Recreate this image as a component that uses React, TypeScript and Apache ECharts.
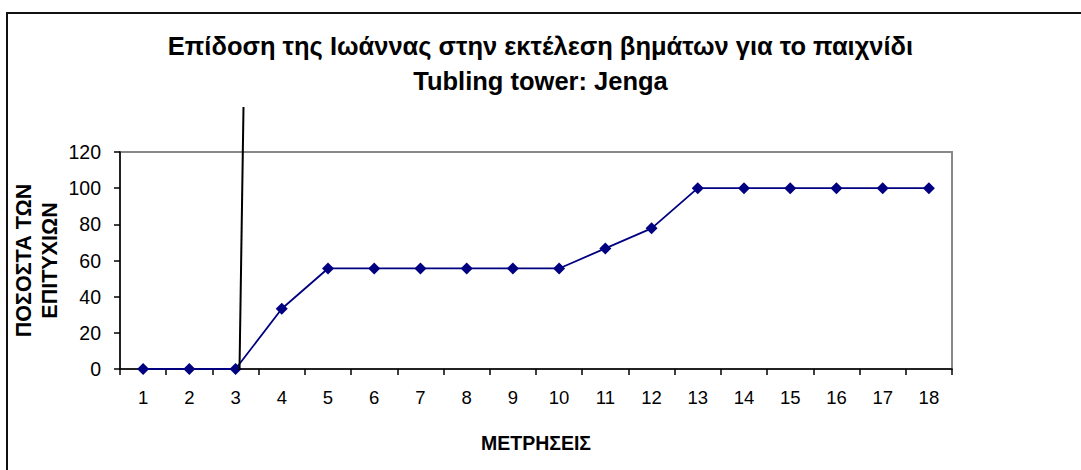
import React, { useEffect, useRef } from "react";
import * as echarts from "echarts";

const categories = ["1","2","3","4","5","6","7","8","9","10","11","12","13","14","15","16","17","18"];
const successRate = [0, 0, 0, 33.3, 55.6, 55.6, 55.6, 55.6, 55.6, 55.6, 66.7, 77.8, 100, 100, 100, 100, 100, 100];
const titleLines = ["Επίδοση της Ιωάννας στην εκτέλεση βημάτων για το παιχνίδι", "Tubling tower: Jenga"];
const yAxisName = "ΠΟΣΟΣΤΑ ΤΩΝ\nΕΠΙΤΥΧΙΩΝ";
const xAxisName = "ΜΕΤΡΗΣΕΙΣ";

const FONT = "Liberation Sans, Arial, sans-serif";

export default function App() {
  const ref = useRef<HTMLDivElement>(null);
  useEffect(() => {
    document.body.style.margin = "0";
    const chart = echarts.init(ref.current!, null, { renderer: "svg" });
    chart.setOption({
      animation: false,
      backgroundColor: "#ffffff",
      textStyle: { fontFamily: FONT, color: "#000" },
      title: {
        text: titleLines.join("\n"),
        left: "center",
        top: 23,
        textStyle: { fontFamily: FONT, fontSize: 25.5, fontWeight: "bold", color: "#000", lineHeight: 35 },
      },
      grid: {
        left: 120, top: 152, right: 129, bottom: 101,
        outerBoundsMode: "none",
        containLabel: false,
        show: true, borderColor: "#888888", borderWidth: 2, backgroundColor: "transparent",
      },
      xAxis: {
        type: "category",
        data: categories,
        boundaryGap: true,
        name: xAxisName,
        nameLocation: "middle",
        nameGap: 64,
        nameMoveOverlap: false,
        nameTextStyle: { fontFamily: FONT, fontSize: 19.5, fontWeight: "bold", color: "#000" },
        axisLine: { lineStyle: { color: "#000", width: 1.5 } },
        axisTick: { show: true, length: 6, lineStyle: { color: "#000", width: 1.5 } },
        axisLabel: { fontFamily: FONT, fontSize: 18.5, color: "#000", margin: 19 },
        splitLine: { show: false },
      },
      yAxis: {
        type: "value",
        min: 0,
        max: 120,
        interval: 20,
        name: yAxisName,
        nameLocation: "middle",
        nameRotate: 90,
        nameGap: 57,
        nameMoveOverlap: false,
        nameTextStyle: { fontFamily: FONT, fontSize: 21.5, fontWeight: "bold", color: "#000", lineHeight: 26, align: "center" },
        axisLine: { show: true, lineStyle: { color: "#000", width: 1.5 } },
        axisTick: { show: true, length: 6, lineStyle: { color: "#000", width: 1.5 } },
        axisLabel: { fontFamily: FONT, fontSize: 19.5, color: "#000", margin: 19 },
        splitLine: { show: false },
      },
      series: [
        {
          type: "line",
          data: successRate,
          symbol: "diamond",
          symbolSize: 12,
          lineStyle: { color: "#000080", width: 1.8 },
          itemStyle: { color: "#000080" },
          z: 3,
        },
      ],
      graphic: [
        {
          type: "rect",
          shape: { x: 7, y: 13, width: 1200, height: 600 },
          style: { fill: "none", stroke: "#111", lineWidth: 2 },
          silent: true,
        },
        {
          type: "line",
          shape: { x1: 243.5, y1: 107, x2: 239.5, y2: 370 },
          style: { stroke: "#000", lineWidth: 2 },
          z: 10,
          silent: true,
        },
      ],
    });
    return () => chart.dispose();
  }, []);
  return <div ref={ref} style={{ width: 1081, height: 470 }} />;
}
